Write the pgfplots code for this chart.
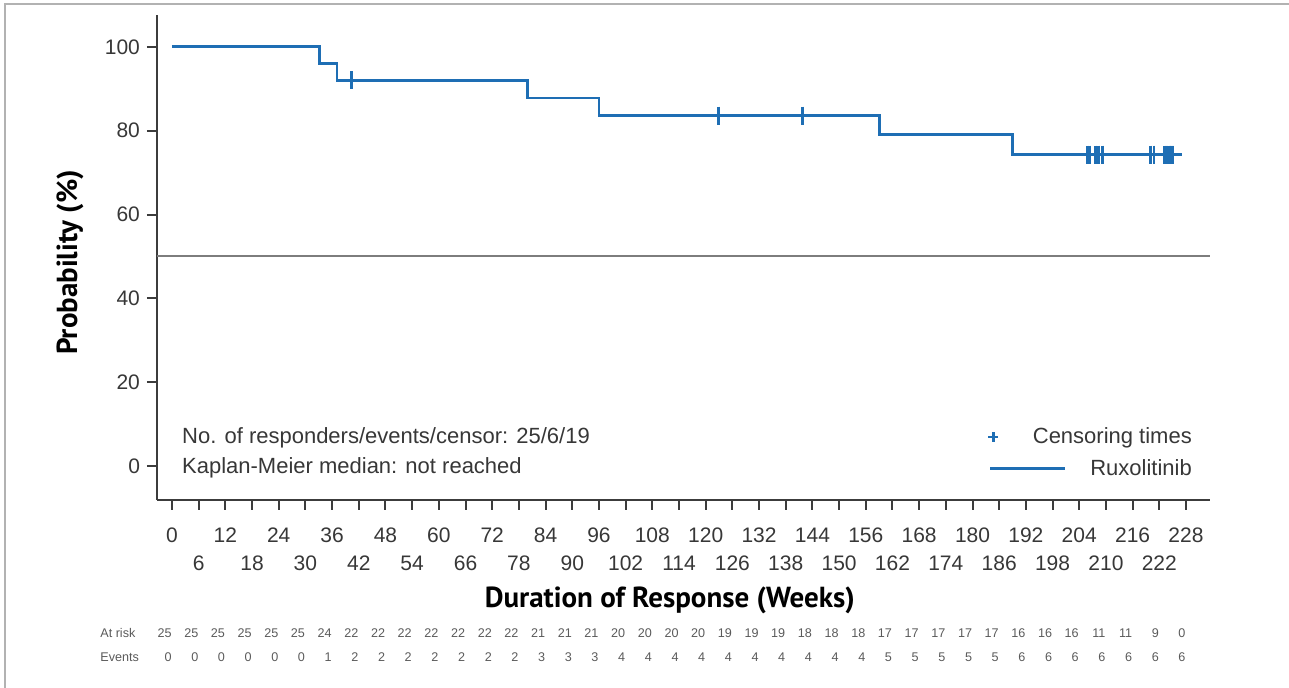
\documentclass[border=0pt]{standalone}
\usepackage{fontspec}
\setmainfont{Liberation Sans}
\newfontfamily\labfont{PT Sans}
\usepackage{pgfplots}
\pgfplotsset{compat=1.18}
\definecolor{kmblue}{RGB}{30,110,180}
\definecolor{axgray}{RGB}{60,60,60}
\definecolor{txtgray}{RGB}{55,55,55}
\definecolor{tblgray}{RGB}{90,90,90}
\definecolor{refgray}{RGB}{125,125,125}
\begin{document}
\begin{tikzpicture}
\useasboundingbox (0,0) rectangle (644.5pt,344pt);
\draw[gray!60, line width=0.8pt] (2.5pt,0) -- (2.5pt,342pt) -- (644.5pt,342pt);
\begin{axis}[
  at={(78.5pt,94pt)}, anchor=south west,
  width=526.5pt, height=242.5pt, scale only axis,
  xmin=-3.37, xmax=233.4, ymin=-8.1, ymax=107.6,
  axis x line*=bottom, axis y line*=left,
  axis line style={axgray, line width=1pt, -},
  xtick={0,12,...,228},
  extra x ticks={6,18,...,222},
  xticklabel style={yshift=-5.5pt},
  extra x tick style={tick label style={yshift=-14pt}},
  ytick={0,20,...,100},
  tick align=outside,
  major tick length=5pt,
  tick style={axgray, line width=1pt},
  tick label style={font=\fontsize{10.5}{12}\selectfont, text=txtgray},
  /pgf/number format/assume math mode=true,
  clip=false,
  xlabel={Duration of Response (Weeks)},
  ylabel={Probability (\%)},
  every axis x label/.style={at={(axis description cs:0.487,-0.206)}, anchor=center, font=\labfont\bfseries\fontsize{14.5}{17}\selectfont, text=black},
  every axis y label/.style={at={(axis description cs:-0.0826,0.49)}, rotate=90, anchor=center, font=\labfont\bfseries\fontsize{14.5}{17}\selectfont, text=black},
  legend style={at={(axis cs:230.3,10.3)}, anchor=north east, draw=none, fill=none, inner sep=0pt, font=\fontsize{11}{13}\selectfont, text=txtgray, row sep=2.5pt},
  legend cell align=right,
]
\addlegendimage{legend image code/.code={\path (0pt,0pt); \draw[overlay,kmblue,line width=1.2pt] (-20pt,0pt)--(-15pt,0pt) (-17.5pt,-2.5pt)--(-17.5pt,2.5pt);}}
\addlegendentry{Censoring times}
\addlegendimage{legend image code/.code={\path (0pt,0pt); \draw[overlay,kmblue,line width=1.4pt] (-19pt,0pt)--(18.5pt,0pt);}}
\addlegendentry{Ruxolitinib}
\addplot[refgray, line width=1pt, forget plot] coordinates {(-3.37,50) (233.4,50)};
\addplot[const plot, kmblue, line width=1.4pt, forget plot] coordinates {
(0,100) (33.2,96) (37.1,92) (80,87.8) (96,83.6) (159,79.0) (189,74.3) (227,74.3)};
\addplot[only marks, mark=|, mark size=4.5pt, kmblue, mark options={line width=1.4pt}, forget plot] coordinates {
(40.3,92) (122.8,83.6) (141.7,83.6)
(205.8,74.3) (206.3,74.3) (207.6,74.3) (208.4,74.3) (209.2,74.3)
(220.1,74.3) (220.8,74.3)
(223.1,74.3) (223.4,74.3) (223.7,74.3) (224.0,74.3) (224.2,74.3) (224.4,74.3) (224.6,74.3) (224.8,74.3) (225.0,74.3)};
\node[anchor=base west, inner sep=0pt, text=txtgray, font=\fontsize{11}{13}\selectfont] at (axis cs:2.2,5.4) {No. of responders/events/censor: 25/6/19};
\node[anchor=base west, inner sep=0pt, text=txtgray, font=\fontsize{11}{13}\selectfont] at (axis cs:2.2,-1.7) {Kaplan-Meier median: not reached};
\end{axis}
\begin{scope}[x=0.5pt,y=0.5pt, font=\fontsize{6.3}{7}\selectfont, text=tblgray]
\node[anchor=west, inner sep=0pt] at (100,55) {At risk};
\node[anchor=west, inner sep=0pt] at (100,31) {Events};
\foreach \v [count=\i from 0] in {25,25,25,25,25,25,24,22,22,22,22,22,22,22,21,21,21,20,20,20,20,19,19,19,18,18,18,17,17,17,17,17,16,16,16,11,11,9,0} {
  \node[anchor=east, inner sep=0pt] at ({172+26.68*\i},55) {\v};
}
\foreach \v [count=\i from 0] in {0,0,0,0,0,0,1,2,2,2,2,2,2,2,3,3,3,4,4,4,4,4,4,4,4,4,4,5,5,5,5,5,6,6,6,6,6,6,6} {
  \node[anchor=east, inner sep=0pt] at ({172+26.68*\i},31) {\v};
}
\end{scope}
\end{tikzpicture}
\end{document}
